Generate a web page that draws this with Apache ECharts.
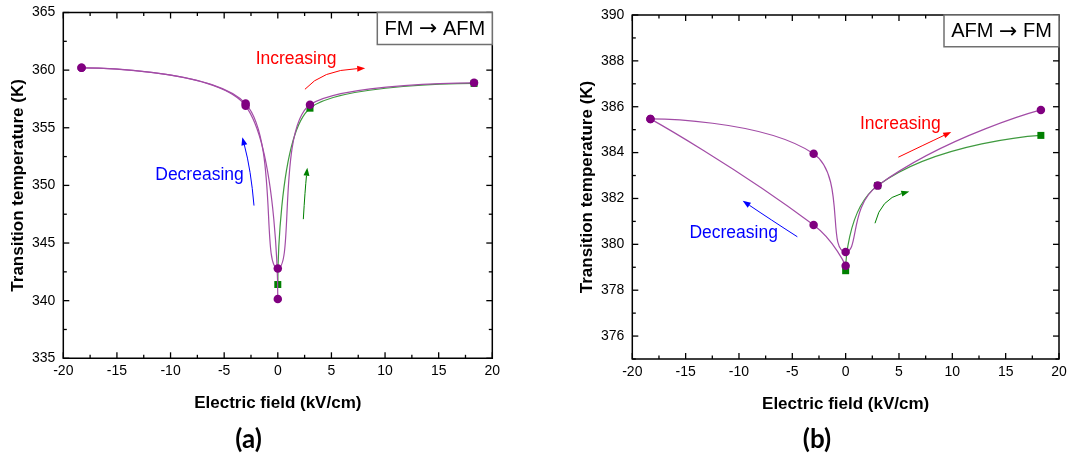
<!DOCTYPE html>
<html><head><meta charset="utf-8">
<script src="https://cdn.jsdelivr.net/npm/echarts@6/dist/echarts.min.js"></script>
<style>html,body{margin:0;padding:0;background:#fff}#c{width:1070px;height:461px}</style>
</head><body><div id="c"></div>
<script>
// ---- Panel (a): FM -> AFM ----
const fieldA1 = [-18.3, -3, 0, 3, 18.3];
const tempA1  = [360.2, 357.1, 342.8, 357.0, 358.9];
const fieldA2 = [-18.3, -3, 0];
const tempA2  = [360.2, 356.9, 340.15];
const fieldA3 = [0, 3, 18.3];
const tempA3  = [341.4, 356.7, 358.85];
// ---- Panel (b): AFM -> FM ----
const fieldB1 = [-18.3, -3, 0, 3, 18.3];
const tempB1  = [385.47, 383.95, 379.67, 382.56, 385.86];
const fieldB2 = [-18.3, -3, 0];
const tempB2  = [385.47, 380.84, 379.07];
const fieldB3 = [0, 3, 18.3];
const tempB3  = [378.85, 382.56, 384.75];
// ---- tick values ----
const xMajor  = [-20, -15, -10, -5, 0, 5, 10, 15, 20];
const xMinor  = [-17.5, -12.5, -7.5, -2.5, 2.5, 7.5, 12.5, 17.5];
const yMajorA = [335, 340, 345, 350, 355, 360, 365];
const yMinorA = [337.5, 342.5, 347.5, 352.5, 357.5, 362.5];
const yMajorB = [376, 378, 380, 382, 384, 386, 388, 390];
const yMinorB = [375, 377, 379, 381, 383, 385, 387, 389];
const panelLabels = ['(a)', '(b)'];
const boxLabels = [['FM', 'AFM'], ['AFM', 'FM']];
const xTitle = 'Electric field (kV/cm)';
const yTitle = 'Transition temperature (K)';

const pts = (xs, ys) => xs.map((x, i) => [x, ys[i]]);
const FONT = '"Liberation Sans", Arial, Helvetica, sans-serif';
const PURPLE = '#800080', PURPLE_L = '#a24ca6', GREEN = '#008000', GREEN_L = '#3f9a3f';

const chart = echarts.init(document.getElementById('c'), null, {renderer: 'canvas'});

const nameStyle = () => ({color: '#000', fontSize: 17, fontWeight: 'bold', fontFamily: FONT});
const lblStyle = (margin) => ({show: true, color: '#000', fontSize: 14, fontFamily: FONT, margin});
const off = () => ({show: false});
const xMain = (g) => ({type: 'value', gridIndex: g, position: 'bottom', min: -20, max: 20, interval: 5,
  axisLine: {show: false, onZero: false}, splitLine: off(), axisTick: off(), minorTick: off(),
  axisLabel: lblStyle(6), name: xTitle, nameLocation: 'middle', nameGap: 37, nameTextStyle: nameStyle()});

chart.setOption({
  animation: false,
  backgroundColor: '#fff',
  grid: [
    {left: 63.3, top: 12.5, width: 429, height: 345.8, show: true, borderColor: '#000', borderWidth: 1.5, backgroundColor: 'transparent'},
    {left: 632.3, top: 15, width: 426.7, height: 344, show: true, borderColor: '#000', borderWidth: 1.5, backgroundColor: 'transparent'}
  ],
  xAxis: [xMain(0), xMain(1)],
  yAxis: [
    {type: 'value', gridIndex: 0, position: 'left', min: 335, max: 365, interval: 5,
     axisLine: {show: false, onZero: false}, splitLine: off(), axisTick: off(), minorTick: off(),
     axisLabel: lblStyle(8), name: yTitle, nameLocation: 'middle', nameGap: 36, nameTextStyle: nameStyle()},
    {type: 'value', gridIndex: 1, position: 'left', min: 375, max: 390,
     axisLine: {show: false, onZero: false}, splitLine: off(), axisTick: off(),
     axisLabel: Object.assign(lblStyle(8), {customValues: yMajorB}), name: yTitle, nameLocation: 'middle', nameGap: 36, nameTextStyle: nameStyle()}
  ],
  series: [
    line(0, pts(fieldA3, tempA3), false),
    line(0, pts(fieldA2, tempA2), true),
    line(0, pts(fieldA1, tempA1), true),
    line(1, pts(fieldB3, tempB3), false),
    line(1, pts(fieldB2, tempB2), true),
    line(1, pts(fieldB1, tempB1), true)
  ]
});
function line(ai, data, purple) {
  return {
    type: 'line', xAxisIndex: ai, yAxisIndex: ai, data, smooth: 0.5,
    symbol: purple ? 'circle' : 'rect', symbolSize: purple ? 8.5 : 7,
    itemStyle: {color: purple ? PURPLE : GREEN},
    lineStyle: {color: purple ? PURPLE_L : GREEN_L, width: 1.2},
    z: purple ? 3 : 2, animation: false, silent: true
  };
}

function P(si, v) { return chart.convertToPixel({seriesIndex: si}, v); }

// ---- inward ticks on all four sides, positioned through the axes' scales (drawn as thin filled bars) ----
function ticks(si, xr, yr, xMaj, xMin, yMaj, yMin) {
  const out = [], w = 1.3;
  const bar = (x, y, bw, bh) => out.push({type: 'rect', z: 20, silent: true,
    shape: {x, y, width: bw, height: bh}, style: {fill: '#000', stroke: null}});
  const doX = (vals, len) => vals.forEach(v => {
    const b = P(si, [v, yr[0]]), t = P(si, [v, yr[1]]);
    bar(b[0] - w / 2, b[1] - len, w, len);
    bar(t[0] - w / 2, t[1], w, len);
  });
  const doY = (vals, len) => vals.forEach(v => {
    const l = P(si, [xr[0], v]), r = P(si, [xr[1], v]);
    bar(l[0], l[1] - w / 2, len, w);
    bar(r[0] - len, r[1] - w / 2, len, w);
  });
  doX(xMaj, 6); doX(xMin, 3.5); doY(yMaj, 6); doY(yMin, 3.5);
  return out;
}

// ---- annotations (placed in data space of each panel) ----
function arrow(si, a, c, b, color) {
  const p0 = P(si, a), pc = P(si, c), p1 = P(si, b);
  const dx = p1[0] - pc[0], dy = p1[1] - pc[1], L = Math.hypot(dx, dy) || 1;
  const ux = dx / L, uy = dy / L, len = 8, hw = 3;
  const bx = p1[0] - ux * len, by = p1[1] - uy * len;
  return [
    {type: 'bezierCurve', shape: {x1: p0[0], y1: p0[1], cpx1: pc[0], cpy1: pc[1], x2: bx, y2: by},
     style: {stroke: color, lineWidth: 1, fill: null}, z: 10},
    {type: 'polygon', shape: {points: [[p1[0], p1[1]], [bx - uy * hw, by + ux * hw], [bx + uy * hw, by - ux * hw]]},
     style: {fill: color}, z: 10}
  ];
}
function label(si, v, text, color) {
  const p = P(si, v);
  return {type: 'text', x: p[0], y: p[1], z: 10,
    style: {text, fill: color, font: '17.5px ' + FONT, align: 'center', verticalAlign: 'middle'}};
}
function box(si, corner, w, h, parts) {
  const p = P(si, corner);
  return [
    {type: 'rect', shape: {x: p[0] - w, y: p[1], width: w, height: h}, style: {fill: '#fff', stroke: '#707070', lineWidth: 1.5}, z: 21},
    {type: 'text', x: p[0] - w / 2, y: p[1] + h / 2 + 1, z: 22,
     style: {text: '{t|' + parts[0] + ' }{a|\u2192}{t| ' + parts[1] + '}', align: 'center', verticalAlign: 'middle',
       rich: {t: {fontSize: 20, fontFamily: FONT, fill: '#000', color: '#000'},
              a: {fontSize: 22, fontFamily: '"DejaVu Sans", sans-serif', fill: '#000', color: '#000'}}}}
  ];
}

const g = [];
g.push(...ticks(0, [-20, 20], [335, 365], xMajor, xMinor, yMajorA, yMinorA));
g.push(...ticks(3, [-20, 20], [375, 390], xMajor, xMinor, yMajorB, yMinorB));
// panel (a)
g.push(label(0, [1.7, 360.97], 'Increasing', '#ff0000'));
g.push(label(0, [-7.3, 350.91], 'Decreasing', '#0000ff'));
g.push(...arrow(0, [2.53, 358.34], [4.1, 360.0], [8.15, 360.16], '#ff0000'));
g.push(...arrow(0, [-2.22, 348.25], [-2.5, 351.34], [-3.31, 354.18], '#0000ff'));
g.push(...arrow(0, [2.38, 347.07], [2.54, 349.6], [2.75, 351.54], '#008000'));
g.push(...box(0, [20, 365], 115, 32, boxLabels[0]));
// panel (b)
g.push(label(3, [5.13, 385.25], 'Increasing', '#ff0000'));
g.push(label(3, [-10.5, 380.48], 'Decreasing', '#0000ff'));
g.push(...arrow(3, [4.94, 383.8], [7.4, 384.35], [9.9, 384.9], '#ff0000'));
g.push(...arrow(3, [-4.53, 380.33], [-7.1, 381.1], [-9.65, 381.9], '#0000ff'));
g.push(...arrow(3, [2.75, 380.92], [3.3, 381.98], [5.97, 382.3], '#008000'));
g.push(...box(3, [20, 390], 115, 31.7, boxLabels[1]));
// panel letters
g.push({type: 'text', x: 248.5, y: 440, style: {text: panelLabels[0], fill: '#000', font: 'bold 26px Lato, "Open Sans", sans-serif', align: 'center', verticalAlign: 'middle'}});
g.push({type: 'text', x: 817, y: 440, style: {text: panelLabels[1], fill: '#000', font: 'bold 26px Lato, "Open Sans", sans-serif', align: 'center', verticalAlign: 'middle'}});
chart.setOption({graphic: g});
</script>
</body></html>
